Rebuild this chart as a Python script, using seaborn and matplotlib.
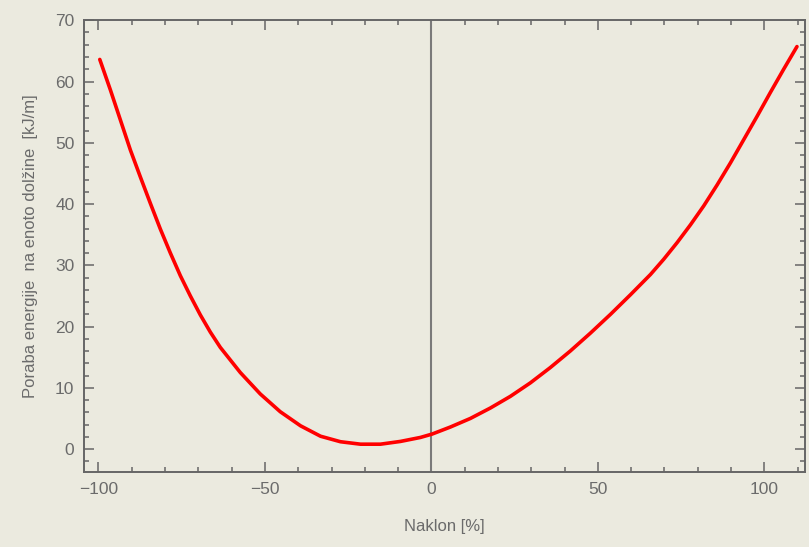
import numpy as np
import pandas as pd
import matplotlib
matplotlib.use('Agg')
import matplotlib.pyplot as plt
import seaborn as sns
from matplotlib.ticker import MultipleLocator

# Values
naklon = [-99.6, -96.4, -93.4, -90.4, -87.4, -84.4, -81.4, -78.4, -75.4, -72.4,
          -69.4, -66.4, -63.4, -57.4, -51.4, -45.4, -39.3, -33.3, -27.3, -21.3,
          -15.3, -9.3, -3.3, 0.2, 5.7, 11.7, 17.7, 23.7, 29.7, 35.7,
          41.7, 47.7, 53.8, 59.8, 65.8, 69.8, 73.8, 77.8, 81.8, 85.8,
          89.8, 93.8, 97.8, 101.8, 105.8, 109.8]
poraba = [63.6, 58.6, 53.7, 48.8, 44.4, 40.1, 35.9, 32.0, 28.3, 25.0,
          21.9, 19.1, 16.6, 12.5, 9.0, 6.1, 3.8, 2.1, 1.2, 0.8,
          0.8, 1.25, 1.9, 2.45, 3.6, 5.0, 6.7, 8.6, 10.8, 13.3,
          16.0, 18.9, 22.0, 25.2, 28.5, 31.0, 33.7, 36.6, 39.7, 43.1,
          46.7, 50.5, 54.3, 58.2, 62.0, 65.7]

df = pd.DataFrame({'Naklon': naklon, 'Poraba': poraba})

bg = '#EBEADF'
frame = '#666666'
txt = '#6B6B6B'

sns.set_theme(style='ticks')
plt.rcParams['font.family'] = ['Liberation Sans', 'DejaVu Sans']

fig = plt.figure(figsize=(8.09, 5.47), dpi=100, facecolor=bg)
ax = fig.add_axes([0.104, 0.137, 0.891, 0.826])
ax.set_facecolor(bg)

ax.axvline(0, color='#7A7A7A', lw=1.5, zorder=1)
sns.lineplot(data=df, x='Naklon', y='Poraba', sort=False, color='#FF0000', lw=2.6,
             ax=ax, zorder=3)

ax.set_xlim(-104.3, 112.2)
ax.set_ylim(-3.75, 70)
ax.xaxis.set_major_locator(MultipleLocator(50))
ax.xaxis.set_minor_locator(MultipleLocator(10))
ax.yaxis.set_major_locator(MultipleLocator(10))
ax.yaxis.set_minor_locator(MultipleLocator(2))

ax.tick_params(which='both', direction='in', top=True, right=True, color=frame,
               labelcolor=txt, labelsize=12.5, width=1.1)
ax.tick_params(which='major', length=7, pad=7)
ax.tick_params(which='minor', length=3.5)
ax.set_xticks([-100, -50, 0, 50, 100])
ax.set_xticklabels(['\u2212100', '\u221250', '0', '50', '100'])

for s in ax.spines.values():
    s.set_color(frame)
    s.set_linewidth(1.4)

ax.set_xlabel('Naklon [%]', color=txt, fontsize=12, labelpad=16)
ax.set_ylabel('Poraba energije  na enoto dolžine  [kJ/m]', color=txt, fontsize=12, labelpad=12)

fig.savefig('out.png', dpi=100, facecolor=bg)
